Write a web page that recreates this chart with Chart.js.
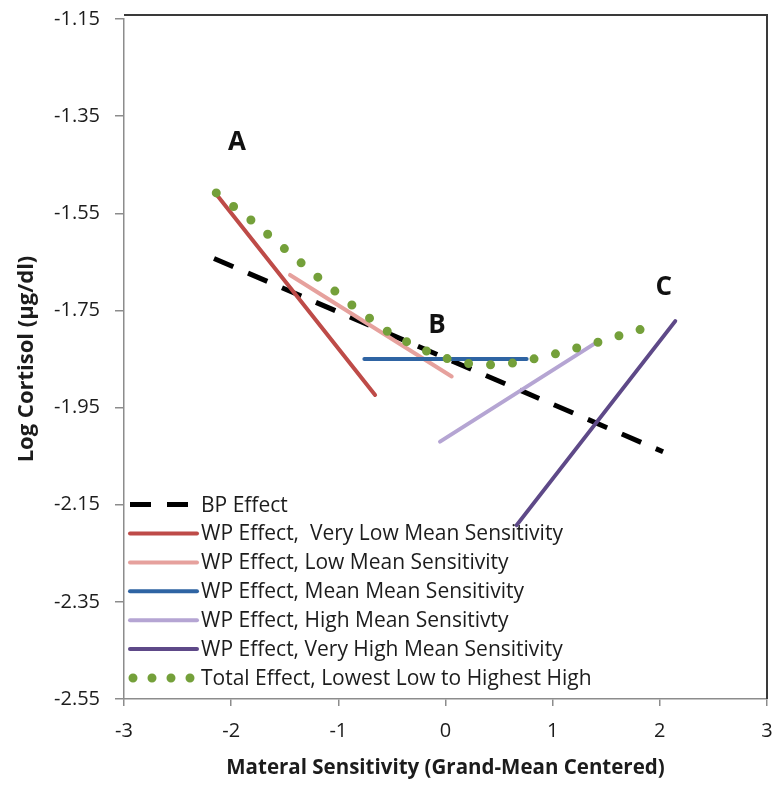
<!DOCTYPE html>
<html>
<head>
<meta charset="utf-8">
<script src="https://cdn.jsdelivr.net/npm/chart.js@4.4.1/dist/chart.umd.min.js"></script>
<style>
    html, body { margin: 0; padding: 0; background: #fff; }
    canvas { display: block; }
</style>
</head>
<body>
<canvas id="chart" width="775" height="785"></canvas>
<script>
// ticks
const xTicks = [-3, -2, -1, 0, 1, 2, 3]
const yTicks = [-1.15, -1.35, -1.55, -1.75, -1.95, -2.15, -2.35, -2.55]

// series
const bpX = [-2.16, 2.03]
const bpY = [-1.643, -2.041]
const veryLowX = [-2.135, -0.657]
const veryLowY = [-1.512, -1.924]
const lowX = [-1.451, 0.058]
const lowY = [-1.677, -1.886]
const meanX = [-0.757, 0.757]
const meanY = [-1.850, -1.850]
const highX = [-0.051, 1.38]
const highY = [-2.020, -1.820]
const veryHighX = [0.664, 2.144]
const veryHighY = [-2.192, -1.772]
const totalX = [-2.139, -1.815, -1.507, -1.194, -0.873, -0.55, -0.366, -0.173, 0.011, 0.204, 0.41, 0.611, 0.819, 1.015, 1.215, 1.416, 1.606, 1.805, 2.01]
const totalY = [-1.508, -1.564, -1.622, -1.681, -1.739, -1.792, -1.814, -1.834, -1.849, -1.859, -1.862, -1.859, -1.850, -1.840, -1.828, -1.816, -1.803, -1.790, -1.779]

// A / B / C markers
const markerText = ['A', 'B', 'C']
const markerX = [-1.945, -0.079, 2.038]
const markerY = [-1.405, -1.782, -1.704]

const seriesNames = [
    'BP Effect',
    'WP Effect,  Very Low Mean Sensitivity',
    'WP Effect, Low Mean Sensitivity',
    'WP Effect, Mean Mean Sensitivity',
    'WP Effect, High Mean Sensitivty',
    'WP Effect, Very High Mean Sensitivity',
    'Total Effect, Lowest Low to Highest High'
]

const FONT = '"Open Sans", Lato, sans-serif'
const TEXT_COLOR = '#1c1c1c'

function pts(xs, ys) {
    return xs.map((x, i) => ({ x: x, y: ys[i] }))
}

const styles = [
    { color: '#000000', width: 5, dash: [21, 16], cap: 'butt' },
    { color: '#BE4B48', width: 4, dash: [], cap: 'round' },
    { color: '#E6A19D', width: 4, dash: [], cap: 'round' },
    { color: '#2F64A3', width: 4, dash: [], cap: 'round' },
    { color: '#B5A5D3', width: 4, dash: [], cap: 'round' },
    { color: '#5E4988', width: 4, dash: [], cap: 'round' },
    { color: '#74A03A', width: 9, dash: [0, 22], cap: 'round', legendDash: [0, 19] }
]

const seriesData = [
    pts(bpX, bpY),
    pts(veryLowX, veryLowY),
    pts(lowX, lowY),
    pts(meanX, meanY),
    pts(highX, highY),
    pts(veryHighX, veryHighY),
    pts(totalX, totalY)
]

const datasets = seriesData.map((data, i) => ({
    label: seriesNames[i],
    data: data,
    showLine: true,
    borderColor: styles[i].color,
    backgroundColor: styles[i].color,
    borderWidth: styles[i].width,
    borderDash: styles[i].dash,
    borderCapStyle: styles[i].cap,
    pointRadius: 0,
    fill: false,
    tension: 0,
    order: seriesData.length - i // excel draws later series on top
}))

// top + right frame of the plot
const framePlugin = {
    id: 'frame',
    afterDraw(chart) {
        const { ctx, chartArea: a } = chart
        ctx.save()
        ctx.strokeStyle = '#3a3a3a'
        ctx.lineWidth = 2
        ctx.beginPath()
        ctx.moveTo(a.left, a.top - 4)
        ctx.lineTo(a.right, a.top - 4)
        ctx.lineTo(a.right, a.bottom)
        ctx.stroke()
        ctx.restore()
    }
}

// A, B, C letters
const markerPlugin = {
    id: 'markers',
    afterDatasetsDraw(chart) {
        const { ctx, scales } = chart
        ctx.save()
        ctx.font = 'bold 26px ' + FONT
        ctx.fillStyle = '#111'
        ctx.textAlign = 'center'
        ctx.textBaseline = 'middle'
        markerText.forEach((t, i) => {
            ctx.fillText(t, scales.x.getPixelForValue(markerX[i]), scales.y.getPixelForValue(markerY[i]))
        })
        ctx.restore()
    }
}

// legend inside the plot, lower left
const insideLegend = {
    id: 'insideLegend',
    afterDraw(chart) {
        const { ctx, chartArea: a } = chart
        const rowH = 28.9
        const n = datasets.length
        const x0 = a.left + 6
        const x1 = a.left + 73
        ctx.save()
        ctx.font = '21px ' + FONT
        ctx.textBaseline = 'middle'
        ctx.fillStyle = TEXT_COLOR
        datasets.forEach((ds, i) => {
            const y = a.bottom - 21 - (n - 1 - i) * rowH
            const s = styles[i]
            ctx.beginPath()
            ctx.strokeStyle = s.color
            ctx.lineWidth = s.width
            ctx.lineCap = s.cap
            ctx.setLineDash(s.legendDash || s.dash)
            const dot = s.cap === 'round' && (s.legendDash || s.dash).length
            ctx.moveTo(x0 + (dot ? 3 : 0), y)
            ctx.lineTo(x1 - (dot ? 6 : 0), y)
            ctx.stroke()
            ctx.setLineDash([])
            ctx.fillText(ds.label, x1 + 4, y + 1)
        })
        ctx.restore()
    }
}

const ctx = document.getElementById('chart')

new Chart(ctx, {
    type: 'scatter',
    data: { datasets: datasets },
    options: {
        responsive: false,
        animation: false,
        layout: { padding: { top: 19, right: 8, left: 0, bottom: 0 } },
        plugins: {
            legend: { display: false },
            tooltip: { enabled: false }
        },
        scales: {
            x: {
                type: 'linear',
                min: -3,
                max: 3,
                afterFit: (scale) => {
                    scale.height = 86
                    scale.paddingLeft = 0
                    scale.paddingRight = 0
                },
                afterBuildTicks: (scale) => { scale.ticks = xTicks.map(v => ({ value: v })) },
                border: { color: '#8c8c8c', width: 1.5 },
                grid: { drawOnChartArea: false, tickLength: 7, color: '#8c8c8c', lineWidth: 1.5 },
                ticks: {
                    padding: 13,
                    color: TEXT_COLOR,
                    font: { family: FONT, size: 20 },
                    callback: (v) => String(v)
                },
                title: {
                    display: true,
                    text: 'Materal Sensitivity (Grand-Mean Centered)',
                    color: TEXT_COLOR,
                    font: { family: FONT, size: 20.5, weight: 'bold' },
                    padding: { top: 0, bottom: 5 }
                }
            },
            y: {
                type: 'linear',
                min: -2.55,
                max: -1.15,
                afterFit: (scale) => {
                    scale.width = 124
                    scale.paddingTop = 0
                    scale.paddingBottom = 0
                },
                afterBuildTicks: (scale) => { scale.ticks = yTicks.map(v => ({ value: v })) },
                border: { color: '#8c8c8c', width: 1.5 },
                grid: { drawOnChartArea: false, tickLength: 9, color: '#8c8c8c', lineWidth: 1.5 },
                ticks: {
                    padding: 15,
                    color: TEXT_COLOR,
                    font: { family: FONT, size: 20 },
                    callback: (v) => Number(v).toFixed(2)
                },
                title: {
                    display: true,
                    text: 'Log Cortisol (µg/dl)',
                    color: TEXT_COLOR,
                    font: { family: FONT, size: 22, weight: 'bold' },
                    padding: { top: 14, bottom: 0 }
                }
            }
        }
    },
    plugins: [framePlugin, markerPlugin, insideLegend]
})
</script>
</body>
</html>
